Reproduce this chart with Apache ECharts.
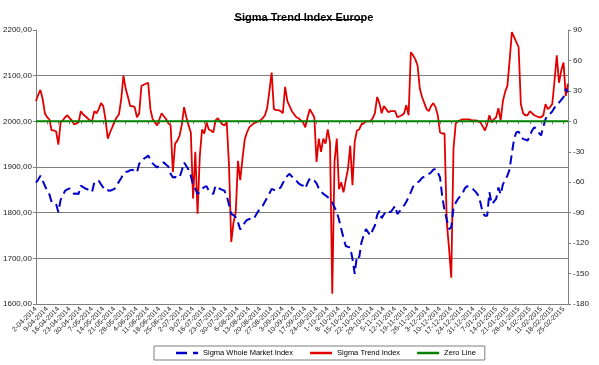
<!DOCTYPE html>
<html>
<head>
<meta charset="utf-8">
<script src="https://cdn.jsdelivr.net/npm/echarts@6/dist/echarts.min.js"></script>
<style>html,body{margin:0;padding:0;background:#fff;}#c{width:599px;height:365px;}</style>
</head>
<body>
<div id="c"></div>
<script>
// Business-day dates starting 2-04-2014 (weekly tick labels every 5th)
var startDate = '2014-04-02';
var pointCount = 238;

var marketIndex = [
1866,1872,1881,1870,1859,1848,1840,1823,1821,1819,
1801,1828,1838,1848,1851,1853,1848,1841,1842,1841,
1859,1856,1853,1851,1848,1845,1866,1867,1870,1862,
1855,1848,1849,1848,1850,1852,1860,1868,1876,1885,
1889,1890,1893,1894,1891,1888,1907,1912,1918,1921,
1925,1916,1908,1903,1899,1904,1907,1910,1905,1901,
1885,1877,1878,1876,1877,1893,1910,1902,1894,1881,
1860,1852,1841,1845,1852,1856,1858,1848,1843,1841,
1859,1856,1852,1850,1848,1836,1818,1797,1795,1790,
1779,1763,1771,1778,1784,1786,1787,1786,1795,1803,
1809,1815,1824,1833,1842,1852,1850,1848,1852,1855,
1865,1873,1881,1885,1879,1875,1870,1864,1861,1859,
1853,1865,1875,1872,1870,1864,1853,1847,1841,1838,
1834,1829,1822,1812,1801,1785,1764,1745,1727,1725,
1724,1699,1666,1706,1702,1735,1750,1764,1757,1750,
1762,1772,1795,1804,1788,1796,1804,1802,1801,1808,
1815,1797,1803,1809,1816,1824,1834,1845,1857,1862,
1866,1870,1876,1879,1881,1885,1888,1894,1896,1888,
1877,1835,1805,1785,1764,1768,1810,1822,1830,1836,
1841,1853,1858,1857,1855,1850,1845,1838,1822,1800,
1793,1793,1845,1819,1824,1830,1855,1840,1862,1872,
1881,1895,1930,1962,1976,1977,1970,1961,1960,1958,
1968,1980,1987,1983,1975,1969,1988,2005,2013,2016,
2022,2030,2034,2041,2047,2053,2071,2064
];

var trendIndex = [
20,26,31,22,8,4,2,-9,-9,-10,
-23,-1,1,4,6,3,1,-3,-2,-1,
10,7,5,3,1,0,10,8,12,18,
15,2,-17,-11,-6,0,4,7,22,45,
32,24,15,15,14,4,8,35,36,37,
38,12,2,-1,-4,2,8,5,2,-2,
-4,-50,-22,-19,-14,-3,14,4,-4,-11,
-76,-30,-91,-34,-8,-12,-1,-8,-9,-11,
1,3,0,-3,-4,-1,-43,-119,-100,-90,
-39,-58,-37,-18,-11,-6,-4,-2,-1,0,
1,3,6,13,30,48,12,11,11,10,
8,34,20,15,10,7,4,3,1,-1,
-6,4,12,8,4,-40,-17,-30,-17,-22,
-8,-21,-170,-40,-17,-67,-60,-70,-58,-47,
-24,-63,-20,-9,-8,-3,-2,0,0,0,
3,8,24,18,8,15,12,9,10,10,
10,4,5,6,8,16,6,68,65,61,
55,32,24,18,12,10,15,18,14,6,
-11,-12,-12,-99,-125,-154,-27,-2,0,1,
2,2,2,2,1,1,1,0,-1,-5,
-9,-3,6,-1,2,4,13,1,20,29,
35,60,88,83,78,73,17,8,6,6,
10,8,6,5,4,4,6,17,12,14,
17,40,65,38,50,58,25,37
];

var zeroLine = trendIndex.map(function(){ return 0; });

var leftTicks = {min:1600, max:2200, interval:100};
var rightTicks = {min:-180, max:90, interval:30};

// build category dates (weekdays)
var categories = [];
(function(){
  var d = new Date(startDate + 'T00:00:00Z');
  while (categories.length < pointCount) {
    var wd = d.getUTCDay();
    if (wd !== 0 && wd !== 6) {
      var mm = d.getUTCMonth() + 1;
      categories.push(d.getUTCDate() + '-' + (mm < 10 ? '0' + mm : mm) + '-' + d.getUTCFullYear());
    }
    d.setUTCDate(d.getUTCDate() + 1);
  }
})();

var FONT = '"Liberation Sans", Arial, sans-serif';
var GRID = '#808080';
var chart = echarts.init(document.getElementById('c'), null, {renderer:'canvas'});
chart.setOption({
  animation: false,
  backgroundColor: '#ffffff',
  title: {
    text: 'Sigma Trend Index Europe',
    left: 299, top: 7, textAlign: 'center',
    textStyle: {fontFamily: FONT, fontSize: 11, fontWeight: 'bold', color: '#000'}
  },
  graphic: [{
    type: 'line', shape: {x1: 234, y1: 19.5, x2: 364, y2: 19.5},
    style: {stroke: '#000', lineWidth: 1}
  }],
  grid: {left: 34, right: 31, top: 30, bottom: 61, containLabel: false},
  legend: {
    left: 154, top: 346,
    padding: [3, 9, 3, 22],
    itemGap: 17, itemWidth: 22, itemHeight: 2.5,
    borderColor: '#7f7f7f', borderWidth: 1,
    textStyle: {fontFamily: FONT, fontSize: 7.5, color: '#000'},
    data: [
      {name: 'Sigma Whole Market Index', icon: 'path://M0,0h11v2.5h-11z M17,0h5v2.5h-5z'},
      {name: 'Sigma Trend Index', icon: 'path://M0,0h22v2.5h-22z'},
      {name: 'Zero Line', icon: 'path://M0,0h22v2.5h-22z'}
    ]
  },
  xAxis: {
    type: 'category', data: categories, boundaryGap: false,
    axisLine: {lineStyle: {color: GRID, width: 1}},
    axisTick: {interval: 4, length: 3, lineStyle: {color: GRID}},
    axisLabel: {interval: 4, rotate: 45, fontFamily: FONT, fontSize: 7, color: '#222', margin: 4},
    splitLine: {show: false}
  },
  yAxis: [{
    type: 'value', min: leftTicks.min, max: leftTicks.max, interval: leftTicks.interval,
    axisLine: {show: true, lineStyle: {color: GRID}},
    axisTick: {show: true, length: 3, lineStyle: {color: GRID}},
    axisLabel: {fontFamily: FONT, fontSize: 8, color: '#222', margin: 4,
      formatter: function(v){ return v.toFixed(2).replace('.', ','); }},
    splitLine: {show: true, showMaxLine: false,
      lineStyle: {color: [GRID, GRID, GRID, GRID, GRID, GRID, 'rgba(0,0,0,0)'], width: 1}}
  }, {
    type: 'value', min: rightTicks.min, max: rightTicks.max, interval: rightTicks.interval,
    position: 'right',
    axisLine: {show: true, lineStyle: {color: GRID}},
    axisTick: {show: true, length: 3, lineStyle: {color: GRID}},
    axisLabel: {fontFamily: FONT, fontSize: 8, color: '#222', margin: 5},
    splitLine: {show: false}
  }],
  series: [{
    name: 'Sigma Whole Market Index', type: 'line', yAxisIndex: 0,
    data: marketIndex, symbol: 'none',
    lineStyle: {color: '#0000c8', width: 2, type: [9, 5]},
    itemStyle: {color: '#0000c8'}, z: 3
  }, {
    name: 'Sigma Trend Index', type: 'line', yAxisIndex: 1,
    data: trendIndex, symbol: 'none',
    lineStyle: {color: '#e00000', width: 1.8},
    itemStyle: {color: '#e00000'}, z: 2
  }, {
    name: 'Zero Line', type: 'line', yAxisIndex: 1,
    data: zeroLine, symbol: 'none',
    lineStyle: {color: '#008000', width: 2},
    itemStyle: {color: '#008000'}, z: 4
  }]
});
</script>
</body>
</html>
